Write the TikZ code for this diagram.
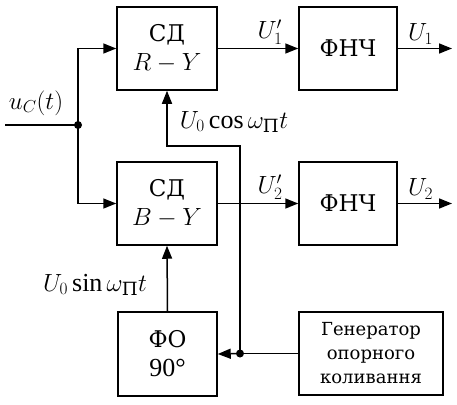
\documentclass[tikz,border=0pt]{standalone}
\usepackage{amsmath}
\usepackage{fontspec}
\setmainfont{Liberation Serif}
\newfontfamily\cyr{DejaVu Serif}
\usetikzlibrary{arrows.meta,positioning}
\tikzset{
  blok/.style={draw,minimum width=100pt,minimum height=83pt,inner sep=0pt,align=center},
  strilka/.style={-{Triangle[length=13pt,width=10pt]}},
  tochka/.style={circle,fill,inner sep=0pt,minimum size=8pt},
}

\begin{document}
\begin{tikzpicture}[x=1pt,y=-1pt,line width=1.5pt,font=\fontsize{26}{29}\selectfont]
  \useasboundingbox (0,0) rectangle (457,404);
  \node[blok] (sdr) at (167,48.5) {{\cyr\fontsize{23}{26}\selectfont СД}\\$R-Y$};
  \node[blok,minimum width=98pt] (fnch1) at (348,48.5) {\cyr\fontsize{23}{26}\selectfont ФНЧ};
  \node[blok] (sdb) at (167,203.5) {{\cyr\fontsize{23}{26}\selectfont СД}\\$B-Y$};
  \node[blok,minimum width=98pt] (fnch2) at (348,203.5) {\cyr\fontsize{23}{26}\selectfont ФНЧ};
  \node[blok,minimum width=99pt,minimum height=84pt] (fo) at (167.5,354) {{\cyr\fontsize{23}{26}\selectfont ФО}\\90°};
  \node[blok,minimum width=144pt,font=\cyr\fontsize{18}{24}\selectfont] (gen) at (371,353.5) {Генератор\\опорного\\коливання};
  % input and splitting
  \coordinate (vh) at (5,125);
  \node[tochka] (rozg) at (78,125) {};
  \node (uc) at (36,103) {$u_C(t)$};
  \draw (vh) -- (rozg.center);
  \draw[strilka] (rozg.center) |- (sdr.west);
  \draw[strilka] (rozg.center) |- (sdb.west);
  % outputs
  \coordinate (vyh1) at (452,48.5);
  \coordinate (vyh2) at (452,203.5);
  \draw[strilka] (sdr.east) -- (fnch1.west) node[pos=0.65,above] {$U_1'$};
  \draw[strilka] (sdb.east) -- (fnch2.west) node[pos=0.65,above] {$U_2'$};
  \draw[strilka] (fnch1.east) -- (vyh1) node[pos=0.42,above] {$U_1$};
  \draw[strilka] (fnch2.east) -- (vyh2) node[pos=0.42,above] {$U_2$};
  % reference oscillation
  \node[tochka] (gt) at (240,353.5) {};
  \coordinate (kut) at (240,146);
  \draw (gen.west) -- (gt.center);
  \draw[strilka] (gt.center) -- (fo.east);
  \draw[strilka] (gt.center) -- (kut) -| (sdr.south);
  \draw[strilka] (fo.north) -- (sdb.south);
  \node (cos) at (234,122) {$U_0\cos\omega_{\text{\cyr П}}t$};
  \node (sin) at (95,285) {$U_0\sin\omega_{\text{\cyr П}}t$};
\end{tikzpicture}
\end{document}
